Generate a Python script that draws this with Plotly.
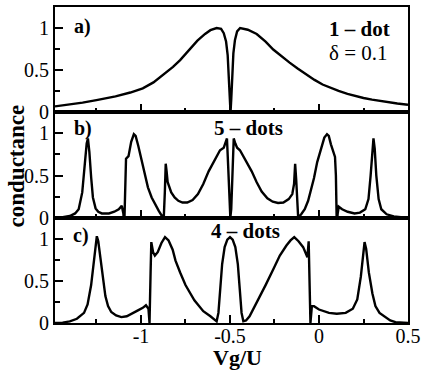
import plotly.graph_objects as go
from plotly.subplots import make_subplots

# ---------------- data ----------------
# panel a) 1-dot
xa = [-1.483, -1.40, -1.328, -1.25, -1.143, -1.06, -0.99, -0.93, -0.87, -0.82, -0.78, -0.73,
      -0.683, -0.64, -0.61, -0.575, -0.55, -0.535, -0.522, -0.513, -0.506, -0.501, -0.497,
      -0.493, -0.488, -0.481, -0.472, -0.46, -0.443, -0.40, -0.35, -0.30, -0.257, -0.21,
      -0.165, -0.12, -0.072, -0.025, 0.02, 0.065, 0.11, 0.16, 0.206, 0.25, 0.298, 0.34,
      0.39, 0.44, 0.5]
ya = [0.07, 0.09, 0.115, 0.145, 0.19, 0.235, 0.285, 0.355, 0.45, 0.54, 0.62, 0.74,
      0.85, 0.93, 0.975, 1.00, 0.99, 0.94, 0.84, 0.68, 0.42, 0.15, 0.0,
      0.15, 0.42, 0.70, 0.86, 0.96, 1.00, 0.98, 0.93, 0.84, 0.745, 0.66,
      0.59, 0.52, 0.45, 0.385, 0.33, 0.29, 0.255, 0.22, 0.19, 0.17, 0.15, 0.135,
      0.12, 0.105, 0.09]

# panel b) 5-dots
xb = [-1.483, -1.44, -1.40, -1.37, -1.35, -1.33, -1.315, -1.305, -1.298, -1.29, -1.28,
      -1.27, -1.255, -1.24, -1.22, -1.18, -1.15, -1.125, -1.108, -1.099, -1.094, -1.089,
      -1.084, -1.07, -1.055, -1.04, -1.03, -1.015, -1.0, -0.98, -0.961, -0.94, -0.922,
      -0.90, -0.885, -0.872, -0.866, -0.861, -0.856, -0.85, -0.83, -0.811, -0.79,
      -0.767, -0.74, -0.71, -0.68, -0.65, -0.62, -0.60, -0.575, -0.556, -0.535,
      -0.525, -0.517, -0.51, -0.503, -0.498, -0.493, -0.486, -0.479, -0.47, -0.46,
      -0.444, -0.425, -0.40, -0.378, -0.35, -0.322, -0.29, -0.26, -0.23, -0.20,
      -0.17, -0.15, -0.14, -0.134, -0.128, -0.122, -0.117, -0.10, -0.08, -0.061,
      -0.045, -0.028, -0.01, 0.011, 0.03, 0.045, 0.055, 0.067, 0.083, 0.09, 0.095,
      0.10, 0.105, 0.111, 0.13, 0.161, 0.20, 0.23, 0.26, 0.278, 0.29, 0.30, 0.306,
      0.313, 0.322, 0.335, 0.35, 0.38, 0.42, 0.46, 0.5]
yb = [0.0, 0.005, 0.02, 0.05, 0.10, 0.30, 0.65, 0.88, 0.94, 0.78, 0.48,
      0.24, 0.11, 0.07, 0.05, 0.05, 0.07, 0.10, 0.14, 0.05, -0.10, 0.30,
      0.70, 0.73, 0.90, 0.99, 0.97, 0.85, 0.71, 0.52, 0.36, 0.24, 0.16,
      0.08, 0.03, 0.0, 0.30, 0.64, 0.55, 0.42, 0.30, 0.24, 0.20,
      0.18, 0.18, 0.21, 0.28, 0.40, 0.55, 0.63, 0.73, 0.80, 0.83,
      0.88, 0.94, 0.60, 0.10, 0.0, 0.10, 0.60, 0.94, 0.88, 0.83,
      0.80, 0.73, 0.63, 0.55, 0.42, 0.31, 0.23, 0.19, 0.175, 0.18,
      0.22, 0.28, 0.40, 0.64, 0.45, 0.15, 0.0, 0.04, 0.10, 0.20,
      0.32, 0.47, 0.66, 0.82, 0.95, 0.99, 0.97, 0.87, 0.75, 0.72, 0.50,
      -0.10, 0.05, 0.13, 0.10, 0.07, 0.05, 0.06, 0.10, 0.22, 0.50, 0.82, 0.94,
      0.82, 0.50, 0.22, 0.10, 0.04, 0.015, 0.005, 0.0]

# panel c) 4-dots
xc = [-1.483, -1.44, -1.40, -1.36, -1.32, -1.30, -1.28, -1.265, -1.255, -1.248, -1.24,
      -1.23, -1.215, -1.20, -1.185, -1.167, -1.14, -1.11, -1.08, -1.05, -1.017, -0.99,
      -0.972, -0.958, -0.952, -0.946, -0.942, -0.932, -0.922, -0.906, -0.885, -0.865,
      -0.845, -0.822, -0.806, -0.78, -0.75, -0.70, -0.65, -0.61, -0.585, -0.575,
      -0.565, -0.555, -0.544, -0.53, -0.515, -0.50, -0.485, -0.47, -0.456, -0.445,
      -0.435, -0.425, -0.41, -0.39, -0.35, -0.30, -0.256, -0.22, -0.183, -0.16,
      -0.139, -0.115, -0.089, -0.072, -0.065, -0.058, -0.053, -0.048, -0.04, -0.028,
      0.0, 0.03, 0.056, 0.10, 0.15, 0.19, 0.215, 0.235, 0.248, 0.256, 0.265, 0.28,
      0.30, 0.317, 0.34, 0.372, 0.40, 0.43, 0.5]
yc = [0.0, 0.005, 0.02, 0.05, 0.12, 0.22, 0.45, 0.75, 0.95, 1.03, 0.97,
      0.80, 0.55, 0.32, 0.20, 0.13, 0.09, 0.07, 0.08, 0.11, 0.15, 0.18,
      0.21, 0.17, 0.0, 0.60, 0.96, 0.84, 0.80, 0.84, 0.95, 1.02,
      0.98, 0.87, 0.74, 0.60, 0.45, 0.27, 0.14, 0.08, 0.03, 0.02,
      0.12, 0.40, 0.70, 0.90, 0.99, 1.02, 0.99, 0.90, 0.70, 0.40,
      0.12, 0.02, 0.03, 0.08, 0.24, 0.45, 0.64, 0.80, 0.92, 0.98,
      1.02, 0.97, 0.90, 0.80, 0.78, 0.97, 0.60, 0.0, 0.20, 0.20,
      0.16, 0.14, 0.12, 0.11, 0.12, 0.17, 0.28, 0.55, 0.85, 0.96, 0.88, 0.60,
      0.35, 0.20, 0.12, 0.07, 0.03, 0.01, 0.0]

x_tickvals = [-1, -0.5, 0, 0.5]
x_ticktext = ["-1", "-0.5", "0", "0.5"]
y_tickvals = [0, 0.5, 1]
y_ticktext = ["0", "0.5", "1"]

# ---------------- figure ----------------
FONT = "Liberation Serif"
fig = make_subplots(rows=3, cols=1, shared_xaxes=True, vertical_spacing=0)

for i, (xs, ys) in enumerate([(xa, ya), (xb, yb), (xc, yc)], start=1):
    fig.add_trace(go.Scatter(x=xs, y=ys, mode="lines",
                             line=dict(color="black", width=2.4),
                             showlegend=False, hoverinfo="skip"), row=i, col=1)

for i in range(1, 4):
    fig.update_xaxes(range=[-1.483, 0.5], tickvals=x_tickvals, ticktext=x_ticktext,
                     showticklabels=(i == 3), ticks="inside", ticklen=8, tickwidth=1.6,
                     tickcolor="black", ticklabelstandoff=-6,
                     minor=dict(tickvals=[-1.25, -0.75, -0.25, 0.25], ticks="inside",
                                ticklen=4, tickwidth=1.6, tickcolor="black"),
                     showline=True, linewidth=2, linecolor="black", mirror=True,
                     showgrid=False, zeroline=False,
                     tickfont=dict(family=FONT, size=20, color="black"),
                     row=i, col=1)
    fig.update_yaxes(range=[0, 1.25], tickvals=y_tickvals, ticktext=y_ticktext,
                     ticks="inside", ticklen=8, tickwidth=1.6, tickcolor="black",
                     minor=dict(tickvals=[0.25, 0.75], ticks="inside", ticklen=5,
                                tickwidth=1.6, tickcolor="black"),
                     showline=True, linewidth=2, linecolor="black", mirror=True,
                     showgrid=False, zeroline=False,
                     tickfont=dict(family=FONT, size=20, color="black"),
                     row=i, col=1)

def px2x(px):
    return (px - 55) / 357.0

def py2y(py):
    return (323 - py) / 318.0

ann = [
    dict(text="<b>a)</b>", x=px2x(72), y=py2y(25), xanchor="left", size=20),
    dict(text="<b>b)</b>", x=px2x(72), y=py2y(127), xanchor="left", size=20),
    dict(text="<b>c)</b>", x=px2x(71), y=py2y(235), xanchor="left", size=20),
    dict(text="<b>1 – dot</b>", x=px2x(363), y=py2y(27), xanchor="center", size=21),
    dict(text="δ = 0.1", x=px2x(362), y=py2y(51), xanchor="center", size=21),
    dict(text="<b>5 – dots</b>", x=px2x(251), y=py2y(127), xanchor="center", size=21),
    dict(text="<b>4 – dots</b>", x=px2x(248), y=py2y(230), xanchor="center", size=21),
    dict(text="<b>Vg/U</b>", x=px2x(240), y=py2y(358), xanchor="center", size=22),
]
for a in ann:
    fig.add_annotation(text=a["text"], x=a["x"], y=a["y"], xref="paper", yref="paper",
                       xanchor=a["xanchor"], yanchor="middle", showarrow=False,
                       font=dict(family=FONT, size=a["size"], color="black"))

fig.add_annotation(text="<b>conductance</b>", x=px2x(17), y=py2y(165), xref="paper",
                   yref="paper", xanchor="center", yanchor="middle", textangle=-90,
                   showarrow=False, font=dict(family=FONT, size=23, color="black"))

fig.update_layout(width=426, height=379, margin=dict(l=55, r=14, t=5, b=56),
                  paper_bgcolor="white", plot_bgcolor="white",
                  font=dict(family=FONT, color="black"))

fig.write_html("out.html", config={"displayModeBar": False},
               post_script="document.body.style.margin='0';")
